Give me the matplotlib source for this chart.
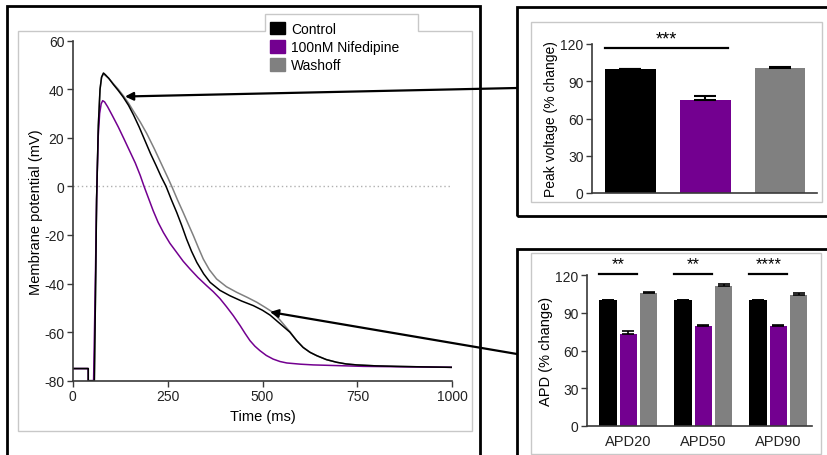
import matplotlib.pyplot as plt
from matplotlib.patches import Rectangle, Polygon, Patch, FancyArrowPatch

plt.rcParams['font.family'] = ['Liberation Sans', 'DejaVu Sans']
plt.rcParams['axes.unicode_minus'] = False

# Action potential traces: time (ms) / membrane potential (mV)
control_t = [0, 41, 41, 57, 60, 63, 67.5, 72, 76, 81, 86, 95, 107, 120, 133, 147, 160, 175, 190,
             205, 220, 233, 246, 260, 274, 287, 300, 313, 327, 345, 362, 388, 414, 445, 476, 500, 520,
             546, 572, 590, 607, 625, 643, 668, 695, 720, 748, 800, 853, 920, 1000]
control_v = [-75, -75, -80, -80, -45, -5, 25, 40, 45, 46.7, 46, 44.5, 42, 39.5, 36.8, 33.4, 29.5, 24.5, 19,
             13.5, 8.5, 4, 0, -5.5, -10.7, -16, -21.7, -26.7, -31.3, -36, -39.5, -42.8, -45, -47.2, -49.1, -51, -53,
             -56.5, -60, -63.5, -66.3, -68.3, -69.7, -71.3, -72.4, -73.1, -73.5, -73.9, -74.1, -74.3, -74.5]

nif_t = [0, 41, 41, 55, 59, 63, 67, 71, 75, 79, 84, 92, 105, 120, 135, 150, 165, 178, 188,
         200, 212, 225, 239, 256, 274, 291, 309, 330, 353, 370, 388, 405, 423, 441, 454, 467, 480, 493,
         510, 528, 546, 564, 600, 634, 700, 766, 880, 1000]
nif_v = [-75, -75, -80, -80, -45, -5, 20, 30, 34, 35.3, 34.8, 32.8, 29, 24.5, 19.6, 14.6, 9.6, 4.5, 0,
         -5, -10, -14.8, -19, -23.4, -27.2, -30.8, -34, -37.5, -40.9, -43.3, -46.2, -49.5, -53.2, -57.3, -60.5, -63.5, -65.8, -67.6,
         -69.6, -71.1, -72.1, -72.7, -73.2, -73.5, -73.8, -74.1, -74.3, -74.5]

wash_t = [0, 41, 41, 57, 60, 63, 67.5, 72, 76, 81, 95, 107, 120, 133, 147, 160, 178, 195, 215,
          235, 250, 261, 276, 291, 305, 318, 331, 344, 360, 379, 405, 432, 460, 485, 507, 528,
          546, 572, 590, 607, 625, 643, 668, 695, 720, 748, 800, 853, 920, 1000]
wash_v = [-75, -75, -80, -80, -45, -5, 25, 40, 44.8, 46.3, 44.5, 42.3, 40, 37.4, 34.3, 31, 26.5, 21.8, 15.5,
          8.8, 3.8, 0, -5.5, -10.7, -15.7, -20.3, -25.2, -29.9, -34.3, -38.1, -41.3, -43.6, -45.7, -47.7, -49.8, -51.9,
          -55, -59.8, -63.5, -66.3, -68.3, -69.7, -71.3, -72.4, -73.1, -73.5, -73.9, -74.1, -74.3, -74.5]

groups = ["Control", "100nM Nifedipine", "Washoff"]
colors = ["#000000", "#730090", "#808080"]

peak_mean = [100, 75, 101]
peak_err = [0, 3, 0.5]

apd_labels = ["APD20", "APD50", "APD90"]
apd_control = [100, 100, 100]
apd_control_err = [0, 0, 0]
apd_nif = [73, 79.5, 79.5]
apd_nif_err = [2.5, 1, 0.6]
apd_wash = [105.5, 111.5, 104.5]
apd_wash_err = [0.7, 1.5, 1]

W, H = 827, 456
fig = plt.figure(figsize=(W / 100, H / 100), dpi=100)


def fx(x):
    return x / W


def fy(y):
    return 1 - y / H


def style(ax, col="#3a3a3a"):
    for s in ["top", "right"]:
        ax.spines[s].set_visible(False)
    for s in ["left", "bottom"]:
        ax.spines[s].set_color(col)
        ax.spines[s].set_linewidth(1.2)
    ax.tick_params(colors=col, width=1, length=4, labelcolor="#222222")


# panel frames
fig.add_artist(Rectangle((fx(7), fy(470)), (480 - 7) / W, (470 - 7) / H,
                         transform=fig.transFigure, fill=False, ec="black", lw=2))
fig.add_artist(Rectangle((fx(517), fy(217)), (840 - 517) / W, (217 - 8) / H,
                         transform=fig.transFigure, fill=False, ec="black", lw=2))
fig.add_artist(Rectangle((fx(517), fy(470)), (840 - 517) / W, (470 - 250) / H,
                         transform=fig.transFigure, fill=False, ec="black", lw=2))

gray_pts = [(18, 32), (265, 32), (265, 15), (418, 15), (418, 32), (472, 32), (472, 432), (18, 432)]
fig.add_artist(Polygon([(fx(a), fy(b)) for a, b in gray_pts], closed=True, fill=False,
                       ec="#c8c8c8", lw=1, transform=fig.transFigure))
fig.add_artist(Rectangle((fx(531), fy(202.5)), (822 - 531) / W, (202.5 - 23.3) / H,
                         transform=fig.transFigure, fill=False, ec="#c8c8c8", lw=1))
fig.add_artist(Rectangle((fx(531), fy(455)), (821 - 531) / W, (455 - 254) / H,
                         transform=fig.transFigure, fill=False, ec="#c8c8c8", lw=1))

# action potential traces
ax1 = fig.add_axes([fx(72.7), fy(381.7), (452.3 - 72.7) / W, (381.7 - 41.7) / H])
ax1.axhline(0, color="#b0b0b0", lw=1, ls=(0, (1, 2)))
ax1.plot(wash_t, wash_v, color=colors[2], lw=1.1)
ax1.plot(nif_t, nif_v, color=colors[1], lw=1.1)
ax1.plot(control_t, control_v, color=colors[0], lw=1.1)
ax1.set_xlim(0, 1000)
ax1.set_ylim(-80, 60)
ax1.set_xticks([0, 250, 500, 750, 1000])
ax1.set_yticks(range(-80, 61, 20))
ax1.set_xlabel("Time (ms)", fontsize=10.5, labelpad=4)
ax1.set_ylabel("Membrane potential (mV)", fontsize=10.5, labelpad=1)
style(ax1)
ax1.tick_params(labelsize=10, pad=2)

fig.legend(handles=[Patch(fc=c, ec=c) for c in colors], labels=groups,
           loc="upper left", bbox_to_anchor=(fx(270), fy(23)), frameon=False,
           fontsize=10, handlelength=1.1, handleheight=1.0, handletextpad=0.4,
           labelspacing=0.3, borderpad=0, borderaxespad=0)

# peak voltage bars
ax2 = fig.add_axes([fx(592), fy(194), 225 / W, 149 / H])
x = range(3)
ax2.bar(x, peak_mean, width=0.68, color=colors)
ax2.errorbar(x, peak_mean, yerr=[[0, 0, 0], peak_err], fmt="none", ecolor="black",
             elinewidth=1.5, capsize=8, capthick=1.5)
ax2.set_xlim(-0.515, 2.495)
ax2.set_ylim(0, 120)
ax2.set_yticks(range(0, 121, 30))
ax2.set_xticks([])
ax2.set_ylabel("Peak voltage (% change)", fontsize=10, labelpad=2)
style(ax2)
ax2.tick_params(labelsize=10, pad=2)
ax2.plot([-0.34, 1.3], [117, 117], color="black", lw=1.6, clip_on=False)
ax2.text(0.48, 124, "***", ha="center", va="center", fontsize=13, clip_on=False)

# APD bars
ax3 = fig.add_axes([fx(587), fy(427), 225 / W, 151 / H])
off, bw = 0.273, 0.227
xs = [0, 1, 2]
for vals, errs, c, d in [(apd_control, apd_control_err, colors[0], -off),
                         (apd_nif, apd_nif_err, colors[1], 0),
                         (apd_wash, apd_wash_err, colors[2], off)]:
    pos = [p + d for p in xs]
    ax3.bar(pos, vals, width=bw, color=c)
    ax3.errorbar(pos, vals, yerr=[[0] * 3, errs], fmt="none", ecolor="black",
                 elinewidth=1.2, capsize=4.5, capthick=1.2)
for p, stars in zip(xs, ["**", "**", "****"]):
    ax3.plot([p - off - bw / 2, p + bw / 2], [121, 121], color="black", lw=1.6, clip_on=False)
    ax3.text(p - off / 2, 129, stars, ha="center", va="center", fontsize=12, clip_on=False)
ax3.set_xlim(-0.553, 2.447)
ax3.set_ylim(0, 120)
ax3.set_yticks(range(0, 121, 30))
ax3.set_xticks(xs)
ax3.set_xticklabels(apd_labels)
ax3.set_ylabel("APD (% change)", fontsize=10.5, labelpad=2)
style(ax3)
ax3.tick_params(labelsize=10, pad=2)
ax3.tick_params(axis="x", length=0, pad=6, labelsize=10.5)

# arrows linking the traces to the bar charts
fig.add_artist(FancyArrowPatch((fx(517), fy(89)), (fx(125), fy(97.5)), transform=fig.transFigure,
                               arrowstyle="-|>", mutation_scale=12, lw=1.6, color="black",
                               shrinkA=0, shrinkB=0))
fig.add_artist(FancyArrowPatch((fx(517), fy(355)), (fx(270), fy(313)), transform=fig.transFigure,
                               arrowstyle="-|>", mutation_scale=12, lw=1.6, color="black",
                               shrinkA=0, shrinkB=0))

fig.savefig("out.png", dpi=100)
